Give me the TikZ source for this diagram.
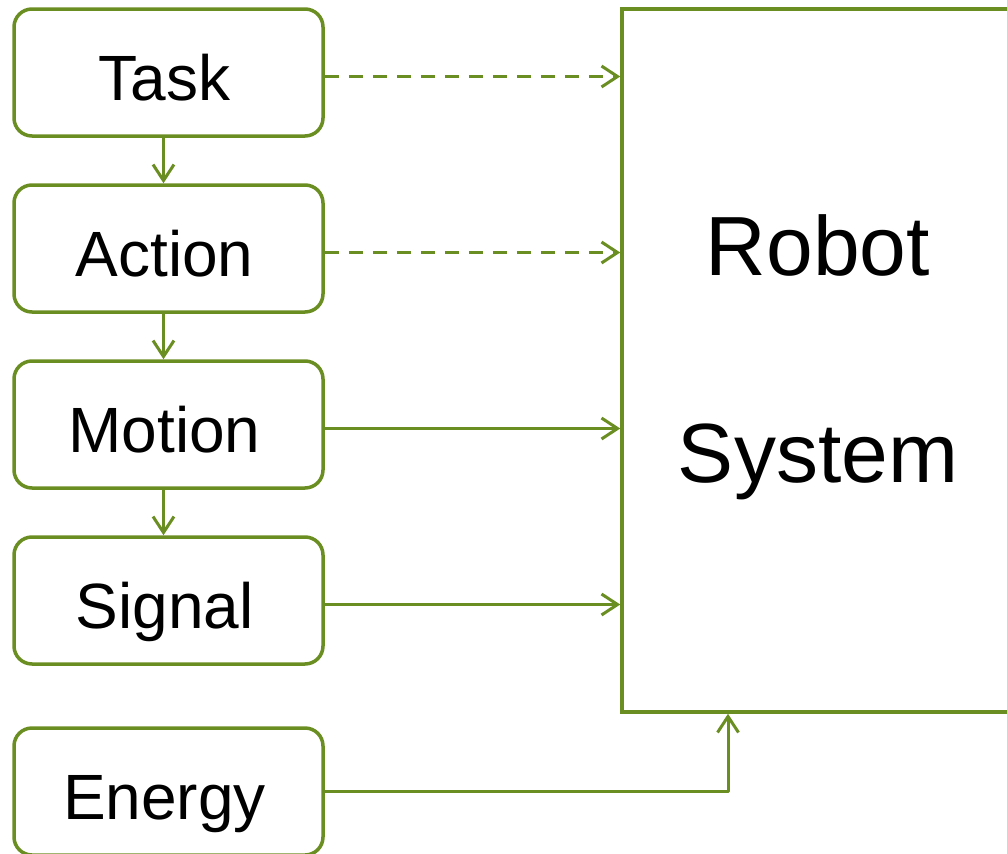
\documentclass[tikz,border=0pt]{standalone}
\usepackage{fontspec}
\setmainfont{Liberation Sans}
\usetikzlibrary{arrows.meta}
\definecolor{olv}{RGB}{107,142,35}
\newcommand{\lft}[1]{\hspace*{-8pt}#1}
\begin{document}
\begin{tikzpicture}[x=1pt,y=-1pt,
  box/.style={draw=olv, line width=3.5pt, rounded corners=18pt,
    minimum width=309pt, minimum height=127pt, inner sep=0pt,
    font=\fontsize{64}{70}\selectfont, text height=55pt, text depth=0pt},
  bigbox/.style={draw=olv, line width=3.5pt, inner sep=0pt},
  biglabel/.style={anchor=base, inner sep=0pt, font=\fontsize{84}{90}\selectfont},
  conn/.style={draw=olv, line width=3pt, line join=round,
    -{Straight Barb[length=16pt,width=21pt]}},
  dconn/.style={conn, dash pattern=on 14pt off 10pt}
]
\path[use as bounding box] (0,0) rectangle (1007,854);
\clip (0,0) rectangle (1007,854);

\node[box] (task)   at (168.5,72.5)  {\lft{Task}};
\node[box] (action) at (168.5,248.5) {\lft{Action}};
\node[box] (motion) at (168.5,424.5) {\lft{Motion}};
\node[box] (signal) at (168.5,600.5) {\lft{Signal}};
\node[box] (energy) at (168.5,791.5) {\lft{Energy}};

\node[bigbox, minimum width=400pt, minimum height=703pt] (robot) at (822,360.5) {};
\node[biglabel] (robotlbl)  at (818,275) {Robot};
\node[biglabel] (systemlbl) at (818,482) {System};

\draw[conn] ([xshift=-5pt]task.south)   -- ([xshift=-5pt]action.north);
\draw[conn] ([xshift=-5pt]action.south) -- ([xshift=-5pt]motion.north);
\draw[conn] ([xshift=-5pt]motion.south) -- ([xshift=-5pt]signal.north);

\draw[dconn] ([yshift=-4pt]task.east)   -- ([yshift=-4pt]task.east -| robot.west);
\draw[dconn] ([yshift=-4pt]action.east) -- ([yshift=-4pt]action.east -| robot.west);
\draw[conn]  ([yshift=-4pt]motion.east) -- ([yshift=-4pt]motion.east -| robot.west);
\draw[conn]  ([yshift=-4pt]signal.east) -- ([yshift=-4pt]signal.east -| robot.west);
\draw[conn]  (energy.east) -| ([xshift=-94pt]robot.south);
\end{tikzpicture}
\end{document}
